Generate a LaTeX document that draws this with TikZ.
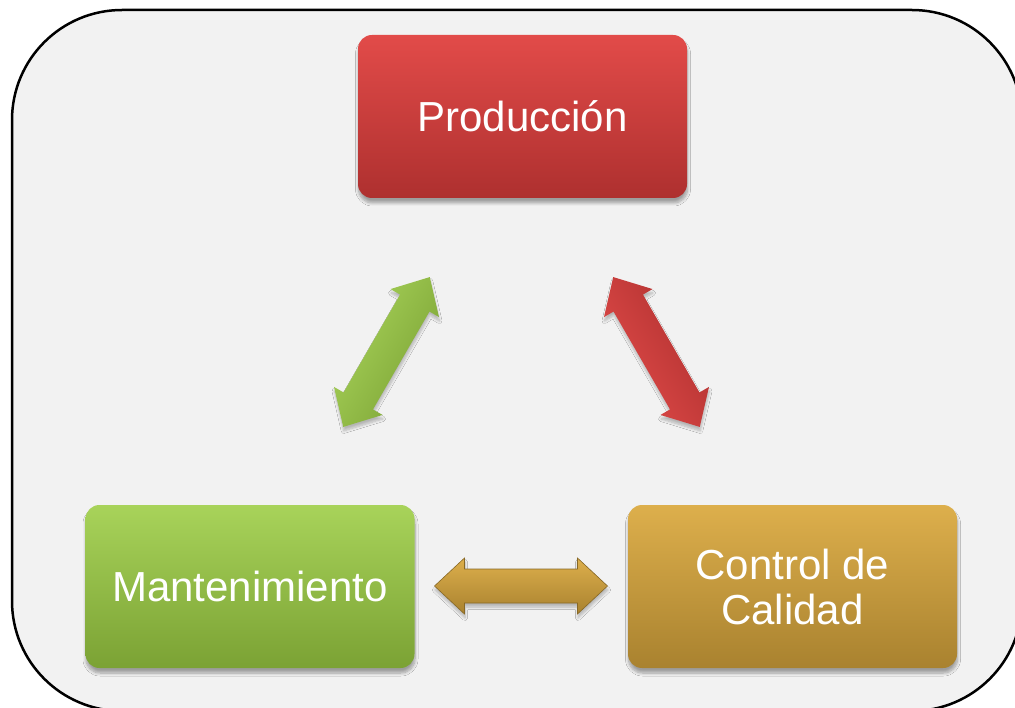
\documentclass[tikz,border=0pt]{standalone}
\usepackage{fontspec}
\setmainfont{Liberation Sans}
\usetikzlibrary{shadows.blur}
\definecolor{bgc}{HTML}{F2F2F2}
\definecolor{redtop}{HTML}{E24B49}
\definecolor{redbot}{HTML}{AE302F}
\definecolor{grntop}{HTML}{A8D35A}
\definecolor{grnbot}{HTML}{7BA234}
\definecolor{goldtop}{HTML}{DDAF4C}
\definecolor{goldbot}{HTML}{A9822F}
\newcommand\dblarrowpath{(-86.5,0) -- (-56.5,-28) -- (-56.5,-17) -- (56.5,-17) -- (56.5,-28) -- (86.5,0) -- (56.5,28) -- (56.5,17) -- (-56.5,17) -- (-56.5,28) -- cycle}
\begin{document}
\begin{tikzpicture}[x=1pt,y=-1pt,
  box/.style={rounded corners=14pt, minimum width=329pt, minimum height=163pt,
    text=white, font=\fontsize{42}{45}\selectfont, align=center, inner sep=0pt,
    blur shadow={shadow xshift=0.5pt, shadow yshift=-5pt, shadow blur radius=3pt, shadow blur steps=8, shadow opacity=35}},
  arrowshade/.style={blur shadow={shadow xshift=0.5pt, shadow yshift=-4pt, shadow blur radius=2.5pt, shadow blur steps=6, shadow opacity=25}}
]
\useasboundingbox (0,0) rectangle (1015,708);
\fill[white] (0,0) rectangle (1015,708);
\draw[line width=2.5pt, fill=bgc, rounded corners=110pt] (12,10) rectangle (1022,711);

\node[box, top color=redtop, bottom color=redbot] (prod) at (522.5,116.5) {Producción};
\node[box, top color=grntop, bottom color=grnbot] (mant) at (250,586.5) {Mantenimiento};
\node[box, top color=goldtop, bottom color=goldbot] (ctrl) at (792.5,586.5) {Control de\\Calidad};

% green double arrow (Mantenimiento <-> Producción)
\begin{scope}[shift={(386.5,352)}, rotate=60]
  \coordinate (ga) at (0,0);
  \path[arrowshade, top color=grntop, bottom color=grnbot, shading angle=60] \dblarrowpath;
\end{scope}
% red double arrow (Producción <-> Control de Calidad)
\begin{scope}[shift={(656.5,352)}, rotate=-60]
  \coordinate (ra) at (0,0);
  \path[arrowshade, top color=redbot, bottom color=redtop, shading angle=-60] \dblarrowpath;
\end{scope}
% gold double arrow (Mantenimiento <-> Control de Calidad)
\begin{scope}[shift={(521,586)}]
  \coordinate (oa) at (0,0);
  \path[arrowshade, top color=goldtop, middle color=goldtop!85!white, bottom color=goldbot, draw=goldbot!80!black, line width=0.6pt] \dblarrowpath;
\end{scope}
\end{tikzpicture}
\end{document}
